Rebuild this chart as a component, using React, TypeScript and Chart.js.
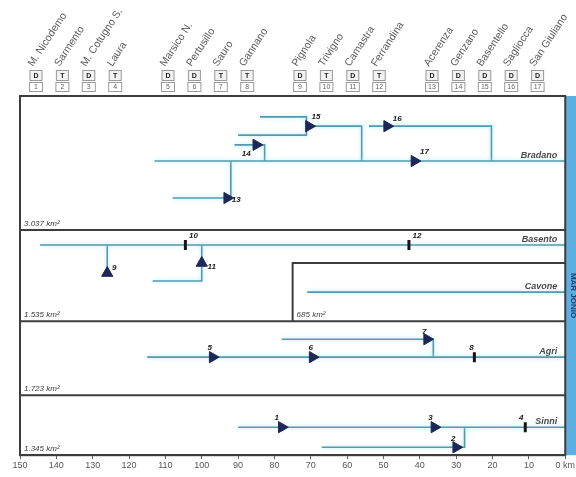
import React, { useEffect, useRef } from "react";
import { Chart, registerables } from "chart.js";

Chart.register(...registerables);

// Distance from the sea (km) along the x axis
const kmTicks = [150, 140, 130, 120, 110, 100, 90, 80, 70, 60, 50, 40, 30, 20, 10, 0];

// Dams and weirs (D = diga, T = traversa)
const damNumbers = [1, 2, 3, 4, 5, 6, 7, 8, 9, 10, 11, 12, 13, 14, 15, 16, 17];
const damNames = [
  "M. Nicodemo", "Sarmento", "M. Cotugno S.", "Laura",
  "Marsico N.", "Pertusillo", "Sauro", "Gannano",
  "Pignola", "Trivigno", "Camastra", "Ferrandina",
  "Acerenza", "Genzano", "Basentello", "Sagliocca", "San Giuliano",
];
const damTypes = ["D", "T", "D", "T", "D", "D", "T", "T", "D", "T", "D", "T", "D", "D", "D", "D", "D"];
const damKm = [78, 30, 36, 11, 97, 69.5, 38, 25, 126, 104.5, 100, 43, 93, 85, 70.5, 49, 41.5];
const damLevel = [7.8, 2.2, 7.8, 7.8, 27.3, 27.3, 32.3, 27.3, 50.7, 58.5, 53.5, 58.5, 71.6, 86.4, 91.6, 91.6, 81.9];
const damMarker = ["arrow", "arrow", "arrow", "bar", "arrow", "arrow", "arrow", "bar", "up", "bar", "up", "bar", "arrow", "arrow", "arrow", "arrow", "arrow"];
// Header column of each dam (groups by basin)
const headerSlot = [0, 1, 2, 3, 5, 6, 7, 8, 10, 11, 12, 13, 15, 16, 17, 18, 19];

// Basins: name, main-stem level, catchment area, panel floor
const basinNames = ["Bradano", "Basento", "Cavone", "Agri", "Sinni"];
const basinLevel = [81.9, 58.5, 45.4, 27.3, 7.8];
const basinAreas = ["3.037 km²", "1.535 km²", "685 km²", "1.723 km²", "1.345 km²"];
const basinFloor = [62.7, 37.3, 37.3, 16.7, 0];
const basinStartKm = [150, 150, 75, 150, 150];
const panelDividers = [62.7, 37.3, 16.7];

// River courses as [km, level] polylines
const bradanoMain = [[113, 81.9], [0, 81.9]];
const bradanoTrib13 = [[108, 71.6], [92, 71.6], [92, 81.9]];
const bradanoTrib14 = [[91, 86.4], [82.7, 86.4], [82.7, 81.9]];
const bradanoTrib15a = [[84, 94.2], [71.2, 94.2], [71.2, 89.1], [90, 89.1]];
const bradanoTrib15b = [[71.2, 91.6], [56, 91.6], [56, 81.9]];
const bradanoTrib16 = [[54, 91.6], [20.3, 91.6], [20.3, 81.9]];
const basentoMain = [[144.5, 58.5], [0, 58.5]];
const basentoTrib9 = [[126, 58.5], [126, 51.5]];
const basentoTrib11 = [[113.5, 48.5], [100, 48.5], [100, 58.5]];
const cavoneMain = [[71, 45.4], [0, 45.4]];
const cavoneBasin = [[75, 37.3], [75, 53.5], [0, 53.5]];
const agriMain = [[115, 27.3], [0, 27.3]];
const agriTrib7 = [[78, 32.3], [36.3, 32.3], [36.3, 27.3]];
const sinniMain = [[90, 7.8], [0, 7.8]];
const sinniTrib2 = [[67, 2.2], [27.7, 2.2], [27.7, 7.8]];

const riverCourses = [
  bradanoMain, bradanoTrib13, bradanoTrib14, bradanoTrib15a, bradanoTrib15b, bradanoTrib16,
  basentoMain, basentoTrib9, basentoTrib11, cavoneMain, agriMain, agriTrib7, sinniMain, sinniTrib2,
];

// Styling
const RIVER = "#5499ad";
const FRAME = "#3d3d3d";
const NAVY = "#1d2758";
const SEA = "#5eaee2";
const LABEL_OFFSET: Record<number, [number, number]> = {
  1: [-5, -9], 2: [-3, -9], 3: [-4, -9], 4: [-4, -9], 5: [-3, -9], 6: [-2, -9],
  7: [-3, -7], 8: [-3, -9], 9: [7, -5], 10: [8, -9], 11: [10, 4], 12: [8, -9],
  13: [9, 2], 14: [-10, 9], 15: [7, -9], 16: [10, -7], 17: [10, -9],
};
const HEADER_START = 16;
const HEADER_STEP = 26.4;

const toXY = (pts: number[][]) => pts.map(([x, y]) => ({ x, y }));

const damPoints = (kind: string) =>
  damNumbers
    .map((n, i) => ({ x: damKm[i], y: damLevel[i], n, kind: damMarker[i] }))
    .filter((d) => d.kind === kind)
    .map(({ x, y }) => ({ x, y }));

const decorPlugin = {
  id: "decor",
  beforeDraw(chart: any) {
    const { ctx, chartArea, width, height } = chart;
    ctx.save();
    ctx.fillStyle = "#ffffff";
    ctx.fillRect(0, 0, width, height);
    // sea strip on the right
    ctx.fillStyle = SEA;
    ctx.fillRect(chartArea.right, chartArea.top, width - chartArea.right, chartArea.bottom - chartArea.top);
    ctx.save();
    ctx.translate(chartArea.right + 8, (chartArea.top + chartArea.bottom) / 2 + 20);
    ctx.rotate(Math.PI / 2);
    ctx.fillStyle = "#1f3f73";
    ctx.font = "bold 8px Arial, 'Liberation Sans', sans-serif";
    ctx.textAlign = "center";
    ctx.textBaseline = "middle";
    ctx.fillText("MAR JONIO", 0, 0);
    ctx.restore();
    ctx.restore();
  },
  beforeDatasetDraw(chart: any, args: any) {
    const ds = chart.data.datasets[args.index];
    if (ds.glow) {
      chart.ctx.save();
      chart.ctx.shadowColor = "rgba(160,230,245,1)";
      chart.ctx.shadowBlur = 4;
    }
  },
  afterDatasetDraw(chart: any, args: any) {
    const ds = chart.data.datasets[args.index];
    if (ds.glow) chart.ctx.restore();
  },
  afterDatasetsDraw(chart: any) {
    const { ctx, chartArea, scales } = chart;
    const xs = scales.x;
    const ys = scales.y;
    ctx.save();

    // frame and basin dividers
    ctx.strokeStyle = FRAME;
    ctx.lineWidth = 2;
    ctx.strokeRect(chartArea.left, chartArea.top, chartArea.right - chartArea.left, chartArea.bottom - chartArea.top);
    panelDividers.forEach((v) => {
      const y = ys.getPixelForValue(v);
      ctx.beginPath();
      ctx.moveTo(chartArea.left, y);
      ctx.lineTo(chartArea.right, y);
      ctx.stroke();
    });

    // river names
    ctx.fillStyle = "#4a4a4a";
    ctx.font = "italic bold 9px Arial, 'Liberation Sans', sans-serif";
    ctx.textAlign = "right";
    ctx.textBaseline = "alphabetic";
    basinNames.forEach((name, i) => {
      ctx.fillText(name, chartArea.right - 8, ys.getPixelForValue(basinLevel[i]) - 3);
    });

    // catchment areas
    ctx.font = "italic 8px Arial, 'Liberation Sans', sans-serif";
    ctx.textAlign = "left";
    ctx.fillStyle = "#3a3a3a";
    basinAreas.forEach((a, i) => {
      ctx.fillText(a, xs.getPixelForValue(basinStartKm[i]) + 4, ys.getPixelForValue(basinFloor[i]) - 4);
    });

    // dam numbers next to markers
    ctx.font = "italic bold 8px Arial, 'Liberation Sans', sans-serif";
    ctx.fillStyle = "#1a1a1a";
    ctx.textAlign = "center";
    ctx.textBaseline = "middle";
    damNumbers.forEach((n, i) => {
      const [dx, dy] = LABEL_OFFSET[n];
      ctx.fillText(String(n), xs.getPixelForValue(damKm[i]) + dx, ys.getPixelForValue(damLevel[i]) + dy);
    });

    // header: names, type and number boxes
    damNumbers.forEach((n, i) => {
      const cx = chartArea.left + HEADER_START + headerSlot[i] * HEADER_STEP;
      const top1 = chartArea.top - 26;
      const top2 = chartArea.top - 14;
      ctx.lineWidth = 1;
      ctx.strokeStyle = "#9a9a9a";
      ctx.fillStyle = "#f2f2f2";
      ctx.fillRect(cx - 6.5, top1, 13, 11);
      ctx.strokeRect(cx - 6.5 + 0.5, top1 + 0.5, 12, 10);
      ctx.fillStyle = "#ffffff";
      ctx.fillRect(cx - 7, top2, 14, 10);
      ctx.strokeRect(cx - 7 + 0.5, top2 + 0.5, 13, 9);
      ctx.textAlign = "center";
      ctx.textBaseline = "middle";
      ctx.fillStyle = "#222";
      ctx.font = "bold 7px Arial, 'Liberation Sans', sans-serif";
      ctx.fillText(damTypes[i], cx, top1 + 6);
      ctx.fillStyle = "#666";
      ctx.font = "7px Arial, 'Liberation Sans', sans-serif";
      ctx.fillText(String(n), cx, top2 + 5.5);

      ctx.save();
      ctx.translate(cx - 3, top1 - 3);
      ctx.rotate(-0.99);
      ctx.fillStyle = "#5a5a5a";
      ctx.font = "10.5px Arial, 'Liberation Sans', sans-serif";
      ctx.textAlign = "left";
      ctx.textBaseline = "alphabetic";
      ctx.fillText(damNames[i], 0, 0);
      ctx.restore();
    });

    ctx.restore();
  },
};

export default function App() {
  const ref = useRef<HTMLCanvasElement>(null);

  useEffect(() => {
    document.body.style.margin = "0";
    if (!ref.current) return;

    const riverSets = riverCourses.map((pts) => ({
      data: toXY(pts),
      showLine: true,
      borderColor: RIVER,
      borderWidth: 1.6,
      pointRadius: 0,
      fill: false,
      tension: 0,
      glow: true,
      order: 3,
    }));

    const chart = new Chart(ref.current, {
      type: "scatter",
      data: {
        datasets: [
          ...riverSets,
          {
            data: toXY(cavoneBasin),
            showLine: true,
            borderColor: FRAME,
            borderWidth: 2,
            pointRadius: 0,
            fill: false,
            order: 3,
          },
          {
            data: damPoints("arrow"),
            pointStyle: "triangle",
            rotation: 90,
            pointRadius: 6.5,
            backgroundColor: NAVY,
            borderColor: NAVY,
            borderWidth: 1,
            order: 1,
          },
          {
            data: damPoints("up"),
            pointStyle: "triangle",
            rotation: 0,
            pointRadius: 6.5,
            backgroundColor: NAVY,
            borderColor: NAVY,
            borderWidth: 1,
            order: 1,
          },
          {
            data: damPoints("bar"),
            pointStyle: "line",
            rotation: 90,
            pointRadius: 5,
            backgroundColor: "#151515",
            borderColor: "#151515",
            borderWidth: 3,
            order: 1,
          },
        ] as any,
      },
      options: {
        animation: false,
        responsive: false,
        devicePixelRatio: 1,
        events: [],
        layout: { padding: { left: 20, right: 10, top: 96, bottom: 5 } },
        plugins: { legend: { display: false }, tooltip: { enabled: false } },
        scales: {
          x: {
            type: "linear",
            min: 0,
            max: 150,
            reverse: true,
            afterBuildTicks: (scale: any) => {
              scale.ticks = kmTicks.map((v) => ({ value: v }));
            },
            grid: { drawOnChartArea: false, tickLength: 4, color: "#666", tickWidth: 1 },
            border: { display: true, color: FRAME, width: 2 },
            ticks: {
              padding: 1,
              maxRotation: 0,
              autoSkip: false,
              color: "#555",
              font: { size: 9, family: "Arial, 'Liberation Sans', sans-serif" },
              callback: (v: any) => (Number(v) === 0 ? "0 km" : String(v)),
            },
          },
          y: { type: "linear", min: 0, max: 100, display: false },
        },
      },
      plugins: [decorPlugin],
    });

    return () => chart.destroy();
  }, []);

  return (
    <div style={{ width: 576, height: 477 }}>
      <canvas ref={ref} width={576} height={477} />
    </div>
  );
}
